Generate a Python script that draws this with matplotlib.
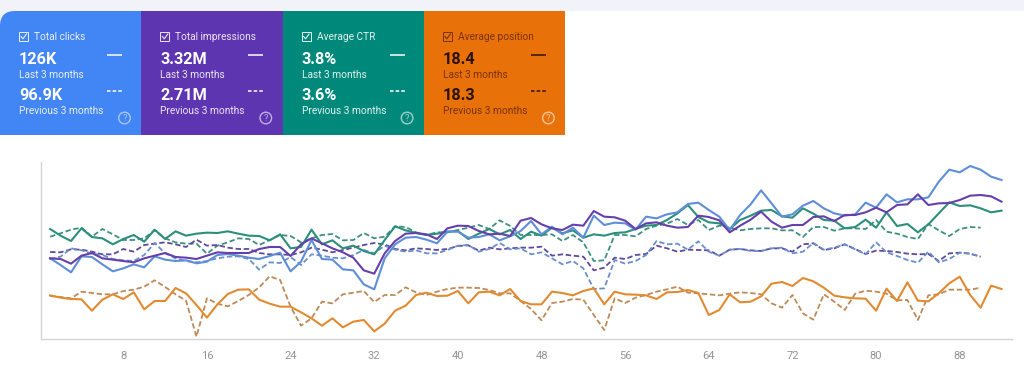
#!/usr/bin/env python3
import matplotlib
matplotlib.use("Agg")
import matplotlib.pyplot as plt
from matplotlib.patches import Circle, FancyBboxPatch, PathPatch, Rectangle
from matplotlib.path import Path

plt.rcParams["font.family"] = ["Roboto", "DejaVu Sans"]

clicks_now = [310, 330, 352, 304, 306, 328, 349, 340, 328, 337, 304, 314, 318, 316, 325, 320, 300, 297, 302, 308,
	312, 303, 293, 349, 320, 255, 312, 314, 343, 346, 388, 403, 310, 268, 248, 246, 254, 265, 230, 230,
	248, 246, 238, 256, 244, 228, 198, 238, 215, 238, 218, 248, 182, 210, 203, 205, 224, 185, 190, 178,
	172, 147, 143, 165, 185, 225, 180, 148, 106, 145, 185, 178, 152, 138, 160, 175, 182, 178, 143, 158,
	118, 142, 133, 133, 127, 80, 44, 52, 33, 44, 65, 75]
impressions_now = [310, 312, 326, 302, 294, 310, 314, 318, 322, 310, 302, 294, 306, 308, 312, 302, 292, 294, 294, 294,
	282, 276, 276, 303, 268, 250, 265, 280, 292, 308, 346, 356, 295, 258, 236, 234, 238, 252, 220, 212,
	213, 228, 238, 236, 243, 197, 189, 208, 220, 225, 209, 212, 168, 185, 187, 197, 222, 205, 202, 212,
	218, 216, 182, 186, 196, 232, 212, 194, 170, 200, 218, 210, 210, 186, 184, 198, 180, 180, 172, 158,
	172, 150, 148, 118, 150, 145, 144, 135, 122, 120, 124, 140]
ctr_now = [222, 242, 258, 220, 246, 250, 268, 252, 240, 260, 224, 252, 229, 242, 236, 233, 234, 229, 236, 242,
	243, 256, 238, 280, 276, 224, 268, 256, 280, 272, 288, 298, 255, 214, 226, 234, 240, 236, 230, 228,
	252, 236, 222, 238, 225, 252, 230, 242, 218, 235, 226, 248, 238, 242, 234, 232, 222, 212, 210, 195,
	175, 150, 186, 202, 205, 222, 195, 182, 167, 165, 184, 188, 160, 176, 195, 197, 220, 216, 194, 218,
	172, 213, 207, 232, 208, 175, 142, 153, 151, 160, 172, 167]
position_now = [421, 428, 432, 433, 467, 434, 418, 432, 412, 463, 438, 438, 399, 415, 450, 488, 448, 417, 404, 403,
	434, 446, 455, 455, 472, 490, 512, 490, 517, 500, 495, 529, 506, 467, 452, 420, 413, 423, 422, 408,
	445, 412, 410, 421, 402, 438, 448, 448, 410, 414, 421, 408, 400, 448, 410, 418, 419, 421, 432, 412,
	411, 405, 414, 480, 465, 418, 442, 440, 424, 386, 381, 393, 369, 379, 398, 422, 427, 430, 431, 467,
	401, 438, 382, 437, 439, 415, 385, 365, 420, 458, 392, 402]

clicks_prev = [312, 305, 280, 286, 296, 300, 312, 316, 318, 300, 264, 295, 310, 318, 322, 318, 310, 305, 304, 312,
	344, 322, 324, 306, 330, 298, 302, 308, 310, 300, 285, 295, 272, 284, 290, 286, 295, 295, 285, 272,
	270, 290, 282, 264, 283, 280, 298, 292, 310, 328, 318, 340, 402, 400, 315, 326, 318, 300, 258, 268,
	266, 284, 259, 290, 302, 284, 282, 288, 288, 280, 278, 295, 290, 264, 284, 278, 268, 283, 298, 262,
	292, 303, 315, 323, 290, 322, 312, 293, 296, 305]
impressions_prev = [291, 292, 283, 284, 290, 298, 298, 282, 290, 270, 266, 262, 268, 276, 254, 272, 270, 278, 282, 282,
	294, 298, 298, 300, 292, 278, 284, 292, 285, 278, 270, 264, 268, 282, 286, 280, 282, 285, 282, 273,
	271, 287, 278, 283, 280, 278, 278, 275, 302, 298, 302, 305, 346, 338, 308, 312, 300, 297, 272, 280,
	290, 284, 285, 286, 302, 284, 282, 286, 288, 280, 280, 290, 268, 265, 285, 280, 268, 282, 297, 287,
	288, 291, 296, 298, 297, 318, 295, 293, 296, 305]
ctr_prev = [245, 235, 224, 218, 245, 222, 238, 255, 255, 250, 226, 250, 262, 266, 266, 296, 272, 262, 250, 252,
	270, 255, 240, 243, 262, 250, 240, 237, 256, 255, 234, 250, 245, 214, 216, 232, 240, 232, 232, 225,
	218, 210, 222, 196, 213, 240, 240, 240, 238, 258, 240, 262, 318, 316, 240, 240, 244, 222, 212, 206,
	192, 210, 195, 225, 212, 218, 226, 222, 220, 220, 226, 226, 246, 216, 216, 227, 220, 220, 222, 195,
	230, 236, 246, 252, 207, 226, 243, 222, 216, 218]
position_prev = [423, 426, 430, 410, 414, 418, 418, 408, 404, 395, 376, 396, 418, 437, 545, 430, 446, 454, 438, 420,
	397, 364, 375, 455, 512, 490, 440, 445, 418, 413, 408, 441, 420, 420, 397, 412, 420, 410, 402, 398,
	398, 399, 405, 415, 415, 438, 462, 496, 444, 440, 432, 434, 480, 525, 430, 444, 428, 420, 410, 403,
	395, 413, 415, 418, 421, 416, 412, 414, 418, 445, 458, 420, 475, 494, 418, 440, 465, 416, 407, 410,
	416, 436, 435, 495, 421, 418, 404, 404, 404, 398]

x_ticks = list(range(8, 89, 8))
metric_names = ["Total clicks", "Total impressions", "Average CTR", "Average position"]
now_labels = ["126K", "3.32M", "3.8%", "18.4"]
prev_labels = ["96.9K", "2.71M", "3.6%", "18.3"]
tile_colors = ["#4285f4", "#5e35b1", "#00897b", "#e8710a"]
tile_inks = ["white", "white", "white", "#2b1206"]
tile_subinks = ["#e8f0fe", "#ece6f7", "#e0f2ef", "#7a3208"]
help_colors = ["#a9c6fa", "#bfaee0", "#9fd0ca", "#f8c597"]

W, H = 1024, 373
fig = plt.figure(figsize=(W / 100, H / 100), dpi=100, facecolor="white")

# page layer in pixel coordinates
page = fig.add_axes([0, 0, 1, 1])
page.set_xlim(0, W)
page.set_ylim(H, 0)
page.axis("off")
page.add_patch(Rectangle((0, 0), W, 11, color="#f1f3f9", lw=0))
page.add_patch(Rectangle((0, 0), 18, 30, color="#f1f3f9", lw=0))
page.add_patch(FancyBboxPatch((15, 11), W, 380, boxstyle="round,pad=0,rounding_size=15",
	mutation_aspect=1, fc="white", ec="none"))
page.add_patch(Rectangle((0, 26), 20, H, color="white", lw=0))

tile_w = 141.3
for i, name in enumerate(metric_names):
	left = i * tile_w
	if i == 0:
		corner = 15
		verts = [(left + corner, 11), (left + tile_w, 11), (left + tile_w, 135), (left, 135),
			(left, 11 + corner), (left, 11), (left + corner, 11)]
		codes = [Path.MOVETO, Path.LINETO, Path.LINETO, Path.LINETO, Path.LINETO, Path.CURVE3, Path.CURVE3]
		page.add_patch(PathPatch(Path(verts, codes), fc=tile_colors[i], ec="none"))
	else:
		page.add_patch(Rectangle((left, 11), tile_w, 124, color=tile_colors[i], lw=0))
	ink = tile_inks[i]
	sub = tile_subinks[i]
	tx = left + 19
	page.add_patch(Rectangle((tx, 32), 9, 9, fc="none", ec=sub, lw=0.7))
	page.plot([tx + 2, tx + 4, tx + 7.5], [36.5, 38.8, 34], color=sub, lw=0.8)
	page.text(tx + 15, 37, name, color=sub, fontsize=7.25, va="center", ha="left")
	page.text(tx, 59, now_labels[i], color=ink, fontsize=11.7, fontweight="bold", va="center", ha="left")
	page.text(tx, 74.5, "Last 3 months", color=sub, fontsize=7.25, va="center", ha="left")
	page.text(tx, 95.5, prev_labels[i], color=ink, fontsize=11.7, fontweight="bold", va="center", ha="left")
	page.text(tx, 111, "Previous 3 months", color=sub, fontsize=7.25, va="center", ha="left")
	page.plot([left + 107, left + 122], [54.5, 54.5], color=ink, lw=1.1, solid_capstyle="butt")
	page.plot([left + 107, left + 122], [91, 91], color=ink, lw=1.1, ls=(0, (2.3, 1.4)), dash_capstyle="butt")
	page.add_patch(Circle((left + 124.5, 118), 5.8, fc="none", ec=help_colors[i], lw=1.0))
	page.text(left + 124.5, 118.4, "?", color=help_colors[i], fontsize=6.8, va="center", ha="center")

# chart layer, the plot box spans x 40.7-1012 and y 162-339 in image pixels
ax = fig.add_axes([40.7 / W, 1 - 339 / H, (1012 - 40.7) / W, (339 - 162) / H])
ax.patch.set_alpha(0)
dashes = (0, (3.0, 1.5))
for vals, col in ((position_prev, "#bd8a58"), (ctr_prev, "#3f8f80"),
		(impressions_prev, "#5d4a9c"), (clicks_prev, "#6a8fca")):
	ax.plot(range(1, len(vals) + 1), vals, color=col, lw=1.3, ls=dashes)
for vals, col in ((ctr_now, "#2b8f7b"), (clicks_now, "#5f8ed8"),
		(impressions_now, "#6540ad"), (position_now, "#e28a32")):
	ax.plot(range(1, len(vals) + 1), vals, color=col, lw=1.5)
ax.set_xlim(0.1, 93)
ax.set_ylim(552, 21)
ax.set_xticks(x_ticks)
ax.set_yticks([])
ax.tick_params(axis="x", length=0, pad=8.5, labelsize=8, labelcolor="#949494")
for side in ("top", "right"):
	ax.spines[side].set_visible(False)
for side in ("left", "bottom"):
	ax.spines[side].set_color("#d4d4d4")
	ax.spines[side].set_linewidth(1.0)

fig.savefig("out.png", dpi=100)
